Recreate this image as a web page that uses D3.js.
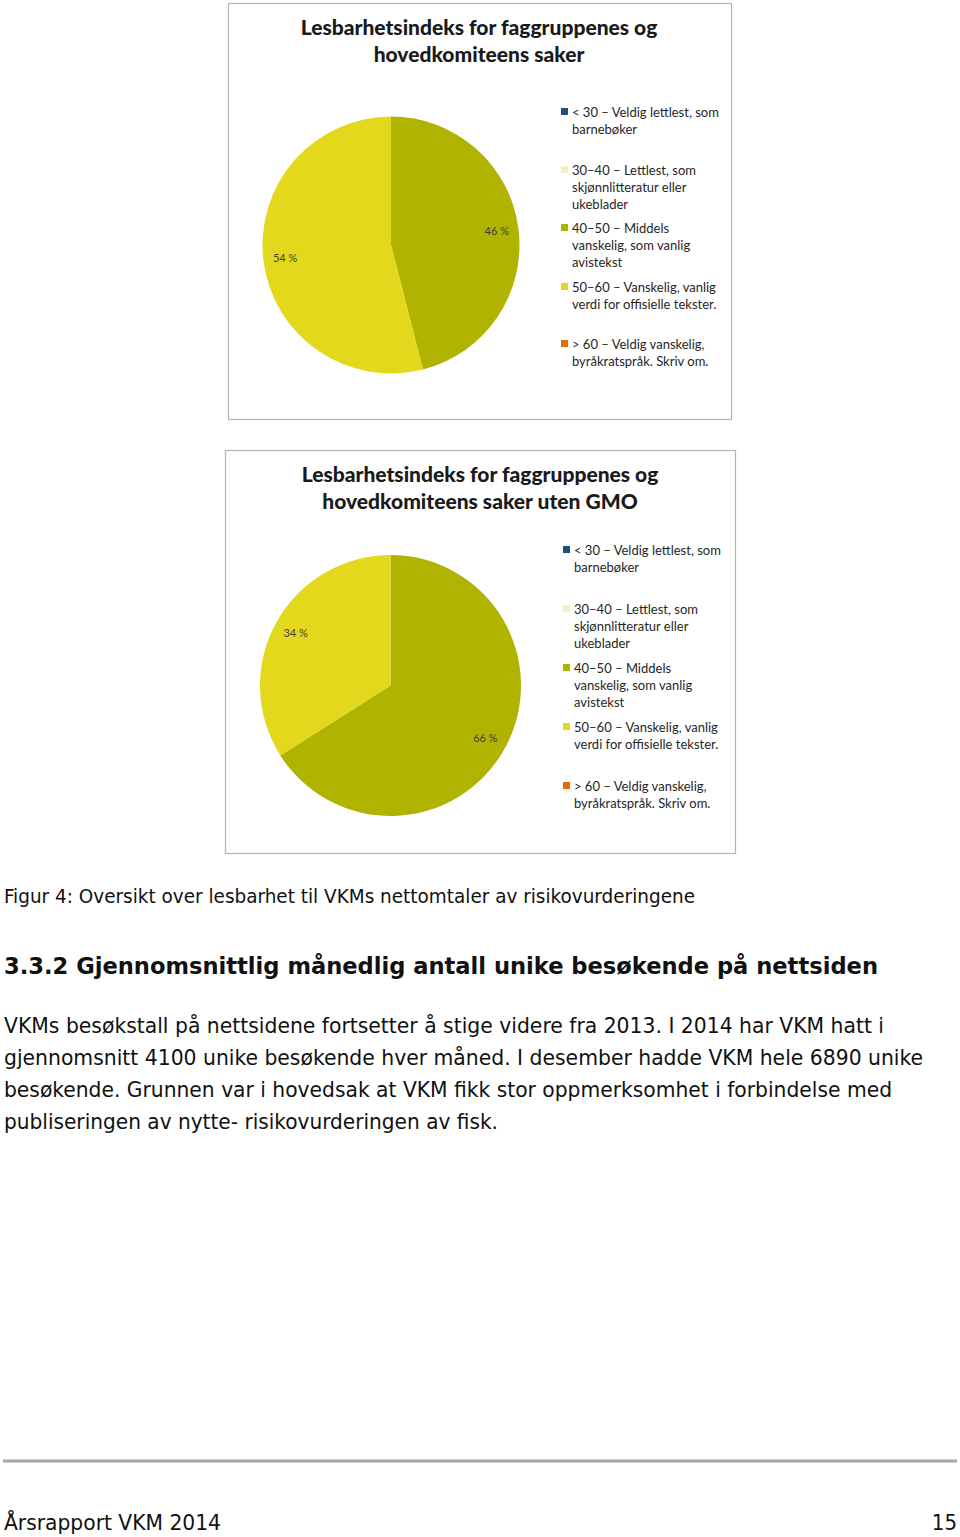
<!DOCTYPE html>
<html>
<head>
<meta charset="utf-8">
<script src="https://cdn.jsdelivr.net/npm/d3@7"></script>
<style>
  body { margin: 0; background: #fff; }
  svg { display: block; }
</style>
</head>
<body>
<svg id="page"></svg>
<script>
// legend categories (readability index bands)
const categories = [
  ['< 30 – Veldig lettlest, som', 'barnebøker'],
  ['30–40 – Lettlest, som', 'skjønnlitteratur eller', 'ukeblader'],
  ['40–50 – Middels', 'vanskelig, som vanlig', 'avistekst'],
  ['50–60 – Vanskelig, vanlig', 'verdi for offisielle tekster.'],
  ['> 60 – Veldig vanskelig,', 'byråkratspråk. Skriv om.']
];
const colors = ['#1f4e79', '#f6f0c4', '#b0b400', '#e4d81c', '#e36c09'];

// percentages per category
const sharesAll = [0, 0, 46, 54, 0];
const sharesNoGmo = [0, 0, 66, 34, 0];

const title1 = ['Lesbarhetsindeks for faggruppenes og', 'hovedkomiteens saker'];
const title2 = ['Lesbarhetsindeks for faggruppenes og', 'hovedkomiteens saker uten GMO'];

const caption = 'Figur 4: Oversikt over lesbarhet til VKMs nettomtaler av risikovurderingene';
const heading = '3.3.2  Gjennomsnittlig månedlig antall unike besøkende på nettsiden';
const bodyLines = [
  'VKMs besøkstall på nettsidene fortsetter å stige videre fra 2013. I 2014 har VKM hatt i',
  'gjennomsnitt 4100 unike besøkende hver måned. I desember hadde VKM hele 6890 unike',
  'besøkende. Grunnen var i hovedsak at VKM fikk stor oppmerksomhet i forbindelse med',
  'publiseringen av nytte- risikovurderingen av fisk.'
];
const footerLeft = 'Årsrapport VKM 2014';
const footerRight = '15';

const W = 960, H = 1537;
const svg = d3.select('#page').attr('width', W).attr('height', H);
svg.append('rect').attr('width', W).attr('height', H).attr('fill', '#fff');

const chartFont = 'Lato, "Open Sans", sans-serif';
const pageFont = '"DejaVu Sans Condensed", "DejaVu Sans", sans-serif';

function pieChart(cfg) {
  const g = svg.append('g').attr('transform', `translate(${cfg.x},${cfg.y})`);

  g.append('rect')
    .attr('x', 0.5).attr('y', 0.5)
    .attr('width', cfg.w).attr('height', cfg.h)
    .attr('fill', '#fff')
    .attr('stroke', '#b4b4b4')
    .attr('stroke-width', 1.2);

  g.selectAll('.title')
    .data(cfg.title)
    .join('text')
    .attr('class', 'title')
    .attr('x', cfg.titleX)
    .attr('y', (d, i) => cfg.titleY + i * 27)
    .attr('text-anchor', 'middle')
    .attr('font-family', chartFont)
    .attr('font-weight', 900)
    .attr('font-size', 21)
    .attr('fill', '#1a1a1a')
    .text(d => d);

  const pie = d3.pie().sort(null).value(d => d)(cfg.data);
  const arc = d3.arc().innerRadius(0).outerRadius(cfg.r);
  const labelArc = d3.arc().innerRadius(cfg.r * 0.83).outerRadius(cfg.r * 0.83);

  const pg = g.append('g').attr('transform', `translate(${cfg.cx},${cfg.cy})`);
  pg.selectAll('path')
    .data(pie.filter(d => d.data > 0))
    .join('path')
    .attr('d', arc)
    .attr('fill', d => colors[d.index]);

  pg.selectAll('text')
    .data(pie.filter(d => d.data > 0))
    .join('text')
    .attr('transform', d => `translate(${labelArc.centroid(d)})`)
    .attr('text-anchor', 'middle')
    .attr('dy', '0.35em')
    .attr('font-family', chartFont)
    .attr('font-size', 11)
    .attr('fill', '#404040')
    .text(d => d.data + ' %');

  // legend
  const lg = g.append('g').attr('transform', `translate(${cfg.legendX},0)`);
  const item = lg.selectAll('g')
    .data(categories)
    .join('g')
    .attr('transform', (d, i) => `translate(0,${cfg.legendY[i]})`);

  item.append('rect')
    .attr('x', 0).attr('y', -4)
    .attr('width', 7).attr('height', 7)
    .attr('fill', (d, i) => colors[i]);

  item.selectAll('text')
    .data(d => d)
    .join('text')
    .attr('x', 11)
    .attr('y', (d, i) => i * 17)
    .attr('dy', '0.35em')
    .attr('font-family', chartFont)
    .attr('font-size', 13)
    .attr('fill', '#262626')
    .text(d => d);
}

pieChart({
  x: 228, y: 3, w: 503, h: 416,
  title: title1, titleX: 251, titleY: 32,
  cx: 163, cy: 242, r: 128.5,
  data: sharesAll,
  legendX: 333, legendY: [109, 167, 225, 284, 341]
});

pieChart({
  x: 225, y: 450, w: 510, h: 403,
  title: title2, titleX: 255, titleY: 32,
  cx: 165.5, cy: 235.5, r: 130.5,
  data: sharesNoGmo,
  legendX: 338, legendY: [100, 159, 218, 277, 336]
});

// caption
svg.append('text')
  .attr('x', 4).attr('y', 903)
  .attr('font-family', pageFont)
  .attr('font-size', 19)
  .attr('fill', '#111')
  .attr('textLength', 691)
  .attr('lengthAdjust', 'spacingAndGlyphs')
  .text(caption);

// section heading
svg.append('text')
  .attr('x', 4).attr('y', 974)
  .attr('font-family', pageFont)
  .attr('font-weight', 700)
  .attr('font-size', 23)
  .attr('fill', '#111')
  .attr('textLength', 874)
  .attr('lengthAdjust', 'spacingAndGlyphs')
  .text(heading);

const bodyWidths = [880, 919, 888, 494];
svg.selectAll('.body')
  .data(bodyLines)
  .join('text')
  .attr('class', 'body')
  .attr('x', 4)
  .attr('y', (d, i) => 1033 + i * 32)
  .attr('font-family', pageFont)
  .attr('font-size', 21)
  .attr('fill', '#111')
  .attr('textLength', (d, i) => bodyWidths[i])
  .attr('lengthAdjust', 'spacingAndGlyphs')
  .text(d => d);

// footer
svg.append('line')
  .attr('x1', 3).attr('x2', 957)
  .attr('y1', 1461).attr('y2', 1461)
  .attr('stroke', '#a6a6a6')
  .attr('stroke-width', 3);

svg.append('text')
  .attr('x', 4).attr('y', 1530)
  .attr('font-family', pageFont)
  .attr('font-size', 22)
  .attr('fill', '#111')
  .attr('textLength', 217)
  .attr('lengthAdjust', 'spacingAndGlyphs')
  .text(footerLeft);

svg.append('text')
  .attr('x', 957).attr('y', 1530)
  .attr('text-anchor', 'end')
  .attr('font-family', pageFont)
  .attr('font-size', 22)
  .attr('fill', '#111')
  .text(footerRight);
</script>
</body>
</html>
